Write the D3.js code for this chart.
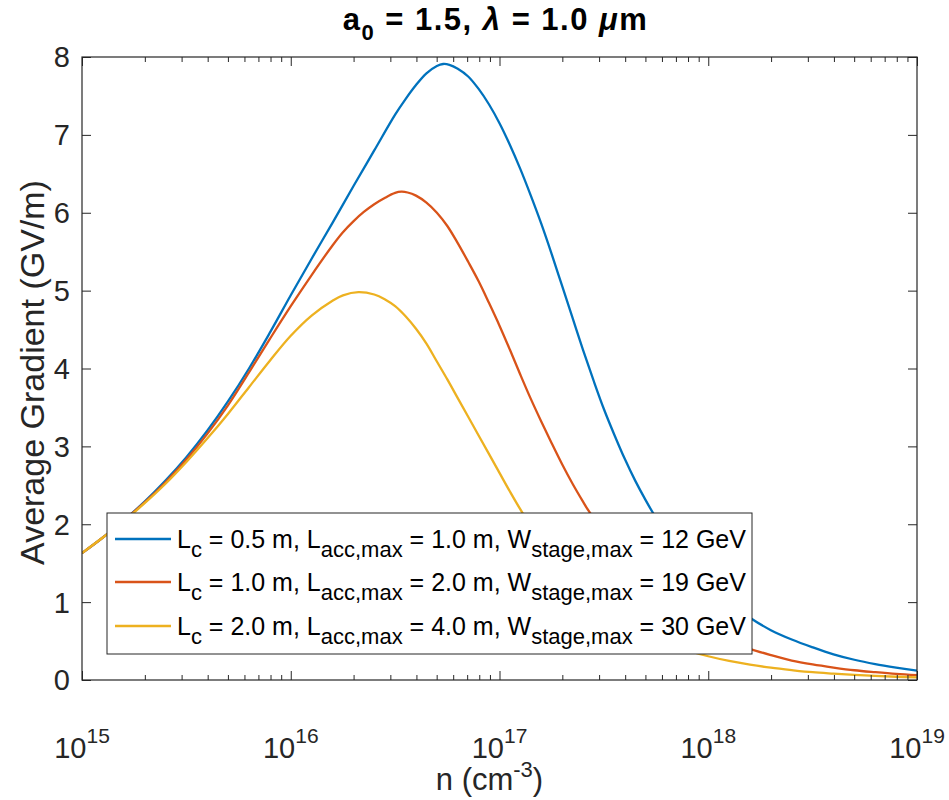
<!DOCTYPE html>
<html>
<head>
<meta charset="utf-8">
<script src="https://cdn.jsdelivr.net/npm/d3@7"></script>
<style>
  html, body { margin: 0; padding: 0; background: #fff; }
  svg { display: block; font-family: "Liberation Sans", Arial, Helvetica, sans-serif; }
</style>
</head>
<body>
<svg id="chart" width="949" height="800"></svg>
<script>
// Plasma density exponents (log10 of n in cm^-3) and average gradient (GV/m) per configuration
const logN_Lc05 = [15.0, 15.1, 15.2, 15.3, 15.4, 15.5, 15.6, 15.7, 15.8, 15.9, 16.0, 16.1, 16.2, 16.3, 16.4, 16.5, 16.55, 16.6, 16.65, 16.7, 16.73, 16.76, 16.8, 16.85, 16.9, 16.95, 17.0, 17.05, 17.1, 17.15, 17.2, 17.25, 17.3, 17.35, 17.4, 17.45, 17.5, 17.55, 17.6, 17.65, 17.7, 17.75, 17.8, 17.85, 17.9, 17.95, 18.0, 18.1, 18.2, 18.3, 18.4, 18.5, 18.6, 18.7, 18.8, 18.9, 19.0];
const grad_Lc05 = [1.63, 1.83, 2.05, 2.29, 2.56, 2.86, 3.20, 3.58, 4.00, 4.46, 4.94, 5.41, 5.87, 6.34, 6.80, 7.26, 7.46, 7.64, 7.79, 7.885, 7.91, 7.90, 7.85, 7.75, 7.59, 7.39, 7.15, 6.87, 6.56, 6.22, 5.86, 5.47, 5.06, 4.65, 4.24, 3.85, 3.48, 3.15, 2.84, 2.56, 2.31, 2.08, 1.88, 1.70, 1.53, 1.38, 1.24, 1.00, 0.80, 0.64, 0.52, 0.42, 0.33, 0.26, 0.205, 0.16, 0.12];

const logN_Lc10 = [15.0, 15.1, 15.2, 15.3, 15.4, 15.5, 15.6, 15.7, 15.8, 15.9, 16.0, 16.1, 16.2, 16.25, 16.3, 16.35, 16.4, 16.45, 16.5, 16.53, 16.56, 16.6, 16.65, 16.7, 16.75, 16.8, 16.85, 16.9, 16.95, 17.0, 17.05, 17.1, 17.15, 17.2, 17.25, 17.3, 17.35, 17.4, 17.425, 17.5, 17.6, 17.7, 17.8, 17.9, 18.0, 18.1, 18.2, 18.3, 18.4, 18.5, 18.6, 18.7, 18.8, 18.9, 19.0];
const grad_Lc10 = [1.63, 1.83, 2.05, 2.28, 2.54, 2.83, 3.16, 3.53, 3.95, 4.38, 4.80, 5.20, 5.58, 5.75, 5.89, 6.01, 6.11, 6.19, 6.255, 6.27, 6.26, 6.22, 6.13, 6.00, 5.83, 5.61, 5.37, 5.12, 4.84, 4.55, 4.24, 3.92, 3.61, 3.32, 3.04, 2.77, 2.52, 2.29, 2.18, 1.89, 1.53, 1.22, 0.98, 0.79, 0.635, 0.50, 0.40, 0.32, 0.25, 0.20, 0.16, 0.125, 0.10, 0.078, 0.062];

const logN_Lc20 = [15.0, 15.1, 15.2, 15.3, 15.4, 15.5, 15.6, 15.7, 15.8, 15.9, 16.0, 16.1, 16.2, 16.25, 16.324, 16.4, 16.45, 16.5, 16.55, 16.6, 16.65, 16.7, 16.75, 16.8, 16.85, 16.9, 16.95, 17.0, 17.05, 17.1, 17.2, 17.3, 17.4, 17.5, 17.6, 17.7, 17.8, 17.9, 18.0, 18.1, 18.2, 18.3, 18.4, 18.5, 18.6, 18.7, 18.8, 18.9, 19.0];
const grad_Lc20 = [1.63, 1.83, 2.04, 2.27, 2.52, 2.80, 3.10, 3.42, 3.76, 4.10, 4.42, 4.68, 4.87, 4.94, 4.98, 4.95, 4.89, 4.80, 4.67, 4.51, 4.32, 4.09, 3.86, 3.62, 3.38, 3.14, 2.90, 2.66, 2.42, 2.19, 1.76, 1.41, 1.13, 0.91, 0.73, 0.59, 0.47, 0.38, 0.305, 0.245, 0.197, 0.158, 0.127, 0.10, 0.082, 0.066, 0.053, 0.042, 0.034];

// Legend entries: [L_c, L_acc,max, W_stage,max]
const legendLc = ["0.5", "1.0", "2.0"];
const legendLacc = ["1.0", "2.0", "4.0"];
const legendW = ["12", "19", "30"];

const seriesColors = ["#0072BD", "#D95319", "#EDB120"];

const xMajorExponents = [15, 16, 17, 18, 19];
const yTicks = [0, 1, 2, 3, 4, 5, 6, 7, 8];

const series = [
  { logN: logN_Lc05, grad: grad_Lc05 },
  { logN: logN_Lc10, grad: grad_Lc10 },
  { logN: logN_Lc20, grad: grad_Lc20 }
];

const svg = d3.select("#chart");
const margin = { left: 82, right: 32, top: 57, bottom: 120 };
const W = 949, H = 800;
const plotW = W - margin.left - margin.right;
const plotH = H - margin.top - margin.bottom;

const x = d3.scaleLog().domain([1e15, 1e19]).range([0, plotW]);
const y = d3.scaleLinear().domain([0, 8]).range([plotH, 0]);

const g = svg.append("g").attr("transform", `translate(${margin.left},${margin.top})`);

const axisColor = "#262626";

// clip so the curves stay inside the axes box
g.append("clipPath").attr("id", "plotclip")
  .append("rect").attr("x", 0).attr("y", 0).attr("width", plotW).attr("height", plotH);

// curves
const line = d3.line()
  .x(d => x(Math.pow(10, d[0])))
  .y(d => y(d[1]))
  .curve(d3.curveCatmullRom.alpha(0.5));

series.forEach((s, i) => {
  const pts = s.logN.map((v, k) => [v, s.grad[k]]);
  g.append("path")
    .datum(pts)
    .attr("clip-path", "url(#plotclip)")
    .attr("fill", "none")
    .attr("stroke", seriesColors[i])
    .attr("stroke-width", 2.3)
    .attr("stroke-linejoin", "round")
    .attr("d", line);
});

// minor tick values for the log axis
const minorTicks = [];
for (let e = 15; e < 19; e++) {
  for (let m = 2; m <= 9; m++) minorTicks.push(m * Math.pow(10, e));
}
const majorTicks = xMajorExponents.map(e => Math.pow(10, e));

function styleAxis(sel) {
  sel.select(".domain").attr("stroke", "none");
  sel.selectAll(".tick line").attr("stroke", axisColor).attr("stroke-width", 1);
}

// bottom axis: major and minor ticks pointing inward
const xAxisBottom = g.append("g").attr("transform", `translate(0,${plotH})`)
  .call(d3.axisBottom(x).tickValues(majorTicks).tickSizeInner(-9).tickSizeOuter(0).tickFormat(""));
styleAxis(xAxisBottom);
const xMinorBottom = g.append("g").attr("transform", `translate(0,${plotH})`)
  .call(d3.axisBottom(x).tickValues(minorTicks).tickSizeInner(-5).tickSizeOuter(0).tickFormat(""));
styleAxis(xMinorBottom);

// top axis mirrors ticks
const xAxisTop = g.append("g")
  .call(d3.axisTop(x).tickValues(majorTicks).tickSizeInner(-9).tickSizeOuter(0).tickFormat(""));
styleAxis(xAxisTop);
const xMinorTop = g.append("g")
  .call(d3.axisTop(x).tickValues(minorTicks).tickSizeInner(-5).tickSizeOuter(0).tickFormat(""));
styleAxis(xMinorTop);

// y axes
const yAxisLeft = g.append("g")
  .call(d3.axisLeft(y).tickValues(yTicks).tickSizeInner(-9).tickSizeOuter(0).tickFormat(""));
styleAxis(yAxisLeft);
const yAxisRight = g.append("g").attr("transform", `translate(${plotW},0)`)
  .call(d3.axisRight(y).tickValues(yTicks).tickSizeInner(-9).tickSizeOuter(0).tickFormat(""));
styleAxis(yAxisRight);

// axes box
g.append("rect")
  .attr("x", 0).attr("y", 0).attr("width", plotW).attr("height", plotH)
  .attr("fill", "none").attr("stroke", axisColor).attr("stroke-width", 1.2);

// y tick labels
g.selectAll(".ylab").data(yTicks).enter().append("text")
  .attr("x", -12)
  .attr("y", d => y(d))
  .attr("dy", "0.36em")
  .attr("text-anchor", "end")
  .attr("font-size", 29)
  .attr("fill", axisColor)
  .text(d => d);

// x tick labels as 10^k
const xl = g.selectAll(".xlab").data(xMajorExponents).enter().append("text")
  .attr("x", d => x(Math.pow(10, d)))
  .attr("y", plotH + 78)
  .attr("text-anchor", "middle")
  .attr("font-size", 29)
  .attr("fill", axisColor);
xl.append("tspan").text("10");
xl.append("tspan").attr("dy", -15).attr("font-size", 21).text(d => d);

// x label
const xLabel = svg.append("text")
  .attr("x", margin.left + plotW / 2 - 10)
  .attr("y", 790)
  .attr("text-anchor", "middle")
  .attr("font-size", 31)
  .attr("fill", axisColor);
xLabel.append("tspan").text("n (cm");
xLabel.append("tspan").attr("dy", -13).attr("font-size", 22).text("-3");
xLabel.append("tspan").attr("dy", 13).text(")");

// y label
svg.append("text")
  .attr("transform", `translate(44,${margin.top + plotH / 2 + 4}) rotate(-90)`)
  .attr("text-anchor", "middle")
  .attr("font-size", 34)
  .attr("fill", axisColor)
  .text("Average Gradient (GV/m)");

// title
const title = svg.append("text")
  .attr("x", margin.left + plotW / 2 - 4)
  .attr("y", 30)
  .attr("text-anchor", "middle")
  .attr("font-size", 31)
  .attr("font-weight", "bold")
  .attr("letter-spacing", 1.5)
  .attr("fill", "#000");
title.append("tspan").text("a");
title.append("tspan").attr("dy", 10).attr("font-size", 22).text("0");
title.append("tspan").attr("dy", -10).text(" = 1.5, ");
title.append("tspan").attr("font-style", "italic").text("λ");
title.append("tspan").text(" = 1.0 ");
title.append("tspan").attr("font-style", "italic").text("μ");
title.append("tspan").text("m");

// legend
const legX = 107 - margin.left, legY = 513 - margin.top;
const legW = 645, legH = 141;
const leg = g.append("g").attr("transform", `translate(${legX},${legY})`);
leg.append("rect")
  .attr("width", legW).attr("height", legH)
  .attr("fill", "#fff").attr("stroke", axisColor).attr("stroke-width", 1);

const rowY = [26, 69, 113];
legendLc.forEach((lc, i) => {
  const row = leg.append("g").attr("transform", `translate(0,${rowY[i]})`);
  row.append("line")
    .attr("x1", 8).attr("x2", 64).attr("y1", 0).attr("y2", 0)
    .attr("stroke", seriesColors[i]).attr("stroke-width", 2.3);
  const t = row.append("text")
    .attr("x", 70).attr("y", 9)
    .attr("font-size", 25)
    .attr("fill", "#000");
  t.append("tspan").text("L");
  t.append("tspan").attr("dy", 9).attr("font-size", 22).text("c");
  t.append("tspan").attr("dy", -9).text(` = ${lc} m, L`);
  t.append("tspan").attr("dy", 9).attr("font-size", 22).text("acc,max");
  t.append("tspan").attr("dy", -9).text(` = ${legendLacc[i]} m, W`);
  t.append("tspan").attr("dy", 9).attr("font-size", 22).text("stage,max");
  t.append("tspan").attr("dy", -9).text(` = ${legendW[i]} GeV`);
});
</script>
</body>
</html>
